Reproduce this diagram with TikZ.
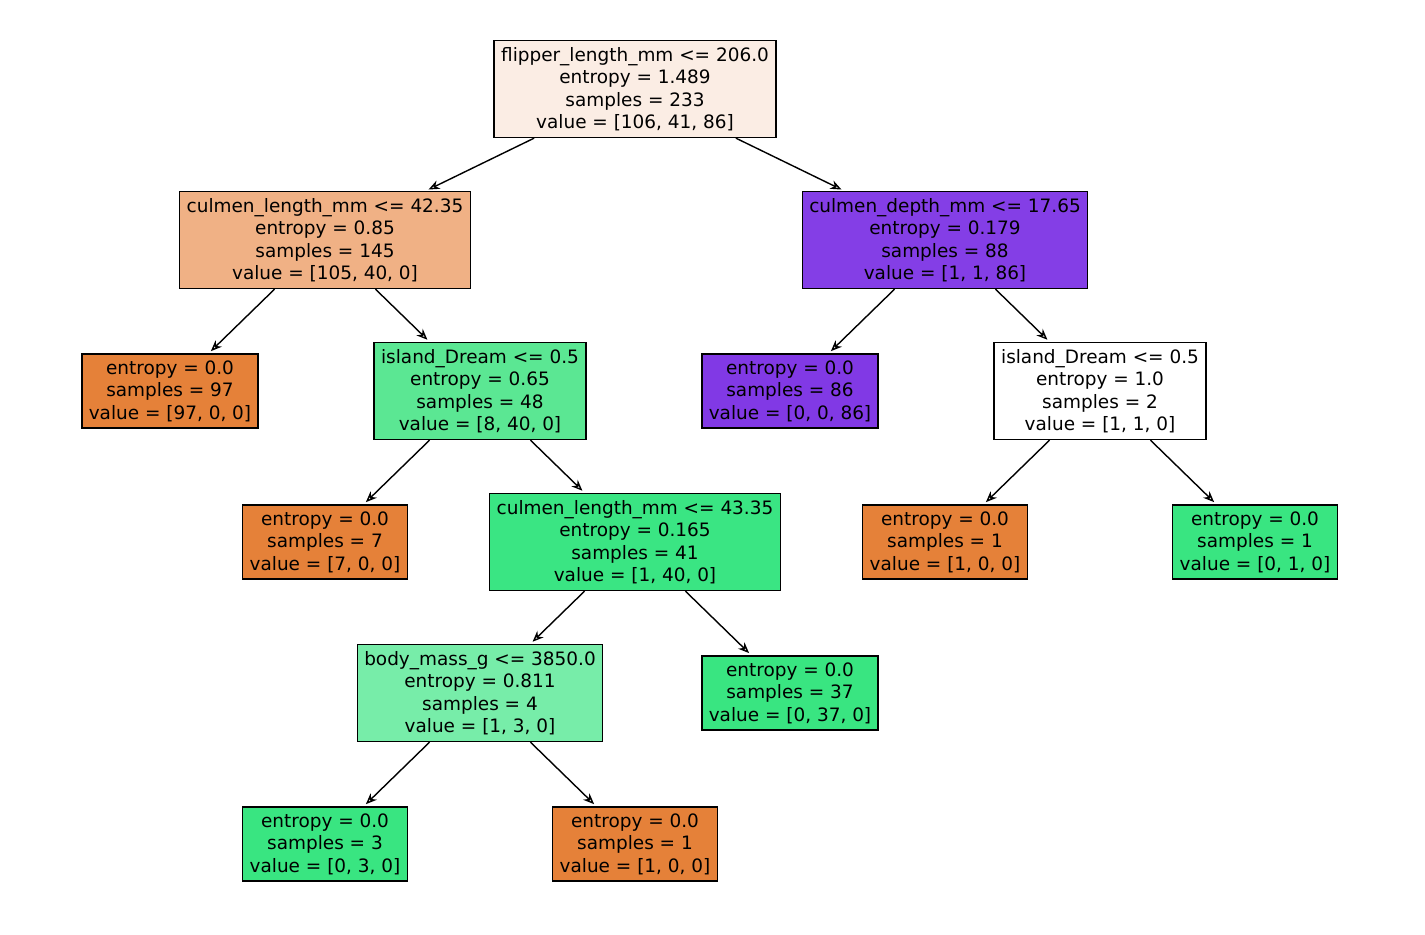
\documentclass[tikz,border=0pt]{standalone}
\usepackage{fontspec}
\setmainfont{DejaVu Sans}
\usetikzlibrary{arrows.meta}
\definecolor{rootc}{HTML}{FBEDE4}
\definecolor{peach}{HTML}{F0B185}
\definecolor{orangec}{HTML}{E58139}
\definecolor{mint}{HTML}{5BE793}
\definecolor{greenc}{HTML}{3AE583}
\definecolor{leafg}{HTML}{39E581}
\definecolor{paleg}{HTML}{77EDA9}
\definecolor{purp}{HTML}{8139E5}
\definecolor{purpl}{HTML}{843EE6}
\begin{document}
\begin{tikzpicture}[x=0.02cm,y=-0.02cm,
    box/.style={draw,line width=0.8pt,align=center,font=\fontsize{10.5}{12.8}\selectfont,inner xsep=0.14cm,inner ysep=0.13cm},
    edge/.style={-{Stealth[length=2.2mm,width=1.8mm,open]},line width=0.8pt,shorten >=0.06cm}]
  \useasboundingbox (0,0) rectangle (1425,935);
  \node[box,fill=rootc] (root) at (635,89) {flipper\_length\_mm <= 206.0\\entropy = 1.489\\samples = 233\\value = [106, 41, 86]};
  \node[box,fill=peach] (cl1) at (325,240) {culmen\_length\_mm <= 42.35\\entropy = 0.85\\samples = 145\\value = [105, 40, 0]};
  \node[box,fill=purpl] (cd) at (945,240) {culmen\_depth\_mm <= 17.65\\entropy = 0.179\\samples = 88\\value = [1, 1, 86]};
  \node[box,fill=orangec] (l97) at (170,391) {entropy = 0.0\\samples = 97\\value = [97, 0, 0]};
  \node[box,fill=mint] (id1) at (480,391) {island\_Dream <= 0.5\\entropy = 0.65\\samples = 48\\value = [8, 40, 0]};
  \node[box,fill=purp] (l86) at (790,391) {entropy = 0.0\\samples = 86\\value = [0, 0, 86]};
  \node[box,fill=white] (id2) at (1100,391) {island\_Dream <= 0.5\\entropy = 1.0\\samples = 2\\value = [1, 1, 0]};
  \node[box,fill=orangec] (l7) at (325,542) {entropy = 0.0\\samples = 7\\value = [7, 0, 0]};
  \node[box,fill=greenc] (cl2) at (635,542) {culmen\_length\_mm <= 43.35\\entropy = 0.165\\samples = 41\\value = [1, 40, 0]};
  \node[box,fill=orangec] (l1a) at (945,542) {entropy = 0.0\\samples = 1\\value = [1, 0, 0]};
  \node[box,fill=leafg] (l1b) at (1255,542) {entropy = 0.0\\samples = 1\\value = [0, 1, 0]};
  \node[box,fill=paleg] (bm) at (480,693) {body\_mass\_g <= 3850.0\\entropy = 0.811\\samples = 4\\value = [1, 3, 0]};
  \node[box,fill=leafg] (l37) at (790,693) {entropy = 0.0\\samples = 37\\value = [0, 37, 0]};
  \node[box,fill=leafg] (l3) at (325,844) {entropy = 0.0\\samples = 3\\value = [0, 3, 0]};
  \node[box,fill=orangec] (l1c) at (635,844) {entropy = 0.0\\samples = 1\\value = [1, 0, 0]};

  \foreach \a/\b in {root/cl1,root/cd,cl1/l97,cl1/id1,cd/l86,cd/id2,id1/l7,id1/cl2,
      id2/l1a,id2/l1b,cl2/bm,cl2/l37,bm/l3,bm/l1c}
    \draw[edge] (\a) -- (\b);
\end{tikzpicture}
\end{document}
